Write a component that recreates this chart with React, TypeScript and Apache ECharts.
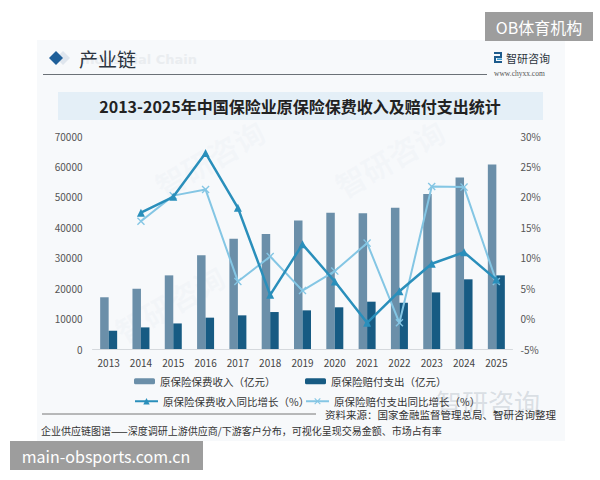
import React, { useEffect, useRef } from "react";
import * as echarts from "echarts";

const years = ["2013", "2014", "2015", "2016", "2017", "2018", "2019", "2020", "2021", "2022", "2023", "2024", "2025"];
const premiumIncome = [17000, 19800, 24200, 30800, 36250, 37800, 42200, 44800, 44600, 46400, 50900, 56400, 60600];
const claimsPaid = [6000, 7100, 8400, 10300, 11060, 12150, 12700, 13700, 15550, 15200, 18600, 22900, 24200];
const incomeGrowth: (number | string)[] = ["-", 17.4, 20.0, 27.2, 18.2, 3.9, 12.2, 6.1, -0.7, 4.5, 9.0, 10.9, 6.4];
const claimsGrowth: (number | string)[] = ["-", 16.0, 20.2, 21.2, 6.1, 10.2, 4.6, 7.8, 12.4, -0.7, 21.7, 21.6, 6.1];

const seriesNames = [
  "原保险保费收入（亿元）",
  "原保险赔付支出（亿元）",
  "原保险保费收入同比增长（%）",
  "原保险赔付支出同比增长（%）",
];

const FONT = "Noto Sans CJK SC";
const X_SYMBOL = "path://M0,1.2L1.2,0L5,3.8L8.8,0L10,1.2L6.2,5L10,8.8L8.8,10L5,6.2L1.2,10L0,8.8L3.8,5Z";

export default function App() {
  const ref = useRef<HTMLDivElement>(null);
  useEffect(() => {
    const chart = echarts.init(ref.current!, undefined, { renderer: "svg" });
    const legendBase = {
      orient: "horizontal" as const,
      itemGap: 4,
      textStyle: { fontSize: 10.5, color: "#333", fontFamily: FONT },
    };
    chart.setOption({
      animation: false,
      backgroundColor: "#ffffff",
      textStyle: { fontFamily: FONT },
      grid: { left: 92.5, right: 87.5, top: 136, bottom: 131 },
      legend: [
        { ...legendBase, left: 129, top: 371, itemWidth: 21, itemHeight: 6, data: [seriesNames[0]] },
        { ...legendBase, left: 300, top: 371, itemWidth: 21, itemHeight: 6, data: [seriesNames[1]] },
        { ...legendBase, left: 129, top: 391, itemWidth: 23, itemHeight: 8, data: [seriesNames[2]] },
        { ...legendBase, left: 300, top: 391, itemWidth: 23, itemHeight: 8, data: [seriesNames[3]] },
      ],
      xAxis: {
        type: "category",
        data: years,
        axisLine: { show: true, lineStyle: { color: "#d5d9dd", width: 1 } },
        axisTick: { show: false },
        axisLabel: { fontSize: 10, color: "#444", margin: 8, fontFamily: FONT },
      },
      yAxis: [
        {
          type: "value",
          min: 0,
          max: 70000,
          interval: 10000,
          axisLine: { show: false },
          axisTick: { show: false },
          splitLine: { show: false },
          axisLabel: { fontSize: 10, color: "#555", margin: 10, fontFamily: FONT, formatter: (v: number) => String(v) },
        },
        {
          type: "value",
          min: -5,
          max: 30,
          interval: 5,
          position: "right",
          axisLine: { show: false },
          axisTick: { show: false },
          splitLine: { show: false },
          axisLabel: { fontSize: 10, color: "#555", margin: 8, formatter: "{value}%", fontFamily: FONT },
        },
      ],
      series: [
        {
          name: seriesNames[0],
          type: "bar",
          data: premiumIncome,
          barWidth: 8.5,
          barGap: "0%",
          itemStyle: { color: "#6b8fa9" },
          z: 2,
        },
        {
          name: seriesNames[1],
          type: "bar",
          data: claimsPaid,
          barWidth: 8.5,
          barGap: "0%",
          itemStyle: { color: "#175b83" },
          z: 2,
        },
        {
          name: seriesNames[2],
          type: "line",
          yAxisIndex: 1,
          data: incomeGrowth,
          symbol: "triangle",
          symbolSize: 8,
          lineStyle: { color: "#2a8fbb", width: 2.5 },
          itemStyle: { color: "#2a8fbb" },
          z: 4,
        },
        {
          name: seriesNames[3],
          type: "line",
          yAxisIndex: 1,
          data: claimsGrowth,
          symbol: X_SYMBOL,
          symbolSize: 8,
          lineStyle: { color: "#84c6e4", width: 2 },
          itemStyle: { color: "#84c6e4" },
          z: 3,
        },
      ],
      graphic: [
        { type: "rect", z: -10, shape: { x: 37, y: 40, width: 528, height: 401 }, style: { fill: "#f7f9fb" } },
        // faint watermarks
        { type: "text", z: -9, x: 150, y: 175, rotation: Math.PI / 6, style: { text: "智研咨询", font: `bold 30px "${FONT}"`, fill: "rgba(200,210,220,0.09)" } },
        { type: "text", z: -9, x: 330, y: 175, rotation: Math.PI / 6, style: { text: "智研咨询", font: `bold 30px "${FONT}"`, fill: "rgba(200,210,220,0.09)" } },
        { type: "text", z: -9, x: 110, y: 320, rotation: Math.PI / 6, style: { text: "智研咨询", font: `bold 30px "${FONT}"`, fill: "rgba(200,210,220,0.09)" } },
        { type: "text", z: -9, x: 436, y: 388, style: { text: "智研咨询", font: `26px "${FONT}"`, fill: "rgba(170,180,190,0.4)" } },
        // header
        { type: "polygon", shape: { points: [[63, 51], [70, 58], [63, 65], [56, 58]] }, style: { fill: "#dfe6ee" } },
        { type: "polygon", shape: { points: [[56, 51], [63, 58], [56, 65], [49, 58]] }, style: { fill: "#1f5f99" } },
        { type: "text", x: 197, y: 59, style: { text: "Industrial Chain", font: `bold 13px "DejaVu Sans"`, fill: "#eaedf0", align: "right", verticalAlign: "middle" } },
        { type: "text", x: 79, y: 58, style: { text: "产业链", font: `19px "${FONT}"`, fill: "#2b3440", verticalAlign: "middle" } },
        { type: "line", shape: { x1: 43, y1: 74.5, x2: 487, y2: 74.5 }, style: { stroke: "#6b7177", lineWidth: 1 } },
        // logo
        { type: "rect", shape: { x: 494, y: 52, width: 8, height: 2 }, style: { fill: "#1d5b8c" } },
        { type: "rect", shape: { x: 500, y: 52, width: 2, height: 6 }, style: { fill: "#1d5b8c" } },
        { type: "rect", shape: { x: 494, y: 56, width: 8, height: 2 }, style: { fill: "#1d5b8c" } },
        { type: "rect", shape: { x: 494, y: 56, width: 2, height: 7 }, style: { fill: "#1d5b8c" } },
        { type: "rect", shape: { x: 494, y: 61, width: 8, height: 2 }, style: { fill: "#1d5b8c" } },
        { type: "rect", shape: { x: 497, y: 58.5, width: 5, height: 1.5 }, style: { fill: "#3aa0d8" } },
        { type: "text", x: 506, y: 58, style: { text: "智研咨询", font: `11px "${FONT}"`, fill: "#2d3640", verticalAlign: "middle" } },
        { type: "text", x: 494, y: 73, style: { text: "www.chyxx.com", font: `7.5px "Liberation Serif"`, fill: "#555", verticalAlign: "middle" } },
        // title bar
        { type: "rect", shape: { x: 58, y: 92, width: 485, height: 28 }, style: { fill: "#e4eff7" } },
        { type: "text", x: 300, y: 106, style: { text: "2013-2025年中国保险业原保险保费收入及赔付支出统计", font: `bold 16px "${FONT}"`, fill: "#222", align: "center", verticalAlign: "middle" } },
        // source
        { type: "line", shape: { x1: 42, y1: 414, x2: 316, y2: 414 }, style: { stroke: "#777", lineWidth: 1 } },
        { type: "text", x: 325, y: 414, style: { text: "资料来源：国家金融监督管理总局、智研咨询整理", font: `10.5px "${FONT}"`, fill: "#333", verticalAlign: "middle" } },
        { type: "text", x: 41, y: 430, style: { text: "企业供应链图谱——深度调研上游供应商/下游客户分布，可视化呈现交易金额、市场占有率", font: `10px "${FONT}"`, fill: "#333", verticalAlign: "middle" } },
        // overlay labels
        { type: "rect", shape: { x: 485, y: 12, width: 108, height: 29 }, style: { fill: "#9d9d9d" } },
        { type: "text", x: 539, y: 26.5, style: { text: "OB体育机构", font: `16px "${FONT}"`, fill: "#ffffff", align: "center", verticalAlign: "middle" } },
        { type: "rect", shape: { x: 10, y: 441, width: 193, height: 29 }, style: { fill: "#9d9d9d" } },
        { type: "text", x: 106, y: 455.5, style: { text: "main-obsports.com.cn", font: `16px "${FONT}"`, fill: "#ffffff", align: "center", verticalAlign: "middle" } },
      ],
    });
    return () => chart.dispose();
  }, []);
  return <div ref={ref} style={{ position: "absolute", left: 0, top: 0, width: 600, height: 480 }} />;
}
